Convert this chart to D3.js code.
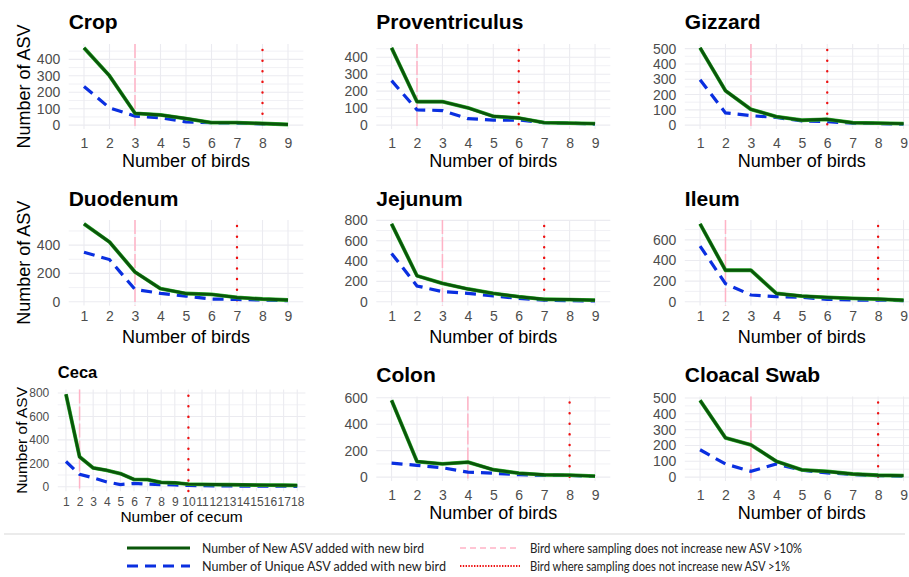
<!DOCTYPE html>
<html>
<head>
<meta charset="utf-8">
<script src="https://cdn.jsdelivr.net/npm/d3@7"></script>
<style>
  html, body { margin: 0; padding: 0; background: #ffffff; }
  svg { display: block; }
  text { font-family: "Liberation Sans", Arial, sans-serif; }
</style>
</head>
<body>
<svg id="chart" width="909" height="577"></svg>
<script>
// ---- data ---------------------------------------------------------------
const birds = [1, 2, 3, 4, 5, 6, 7, 8, 9];
const cecum = [1, 2, 3, 4, 5, 6, 7, 8, 9, 10, 11, 12, 13, 14, 15, 16, 17, 18];

const panelTitles = ["Crop", "Proventriculus", "Gizzard", "Duodenum", "Jejunum",
                     "Ileum", "Ceca", "Colon", "Cloacal Swab"];

// new ASVs added with each additional sample
const cropNew      = [470, 300, 72, 62, 40, 15, 15, 10, 4];
const provNew      = [455, 138, 138, 102, 52, 42, 15, 12, 9];
const gizzardNew   = [505, 225, 103, 56, 32, 38, 16, 13, 10];
const duodenumNew  = [550, 422, 210, 92, 58, 52, 30, 19, 12];
const jejunumNew   = [765, 255, 180, 125, 82, 49, 24, 21, 15];
const ileumNew     = [755, 305, 305, 80, 55, 42, 32, 26, 14];
const cecaNew      = [790, 255, 160, 140, 112, 62, 60, 36, 33, 22, 20, 18, 17, 16, 14, 13, 12, 11];
const colonNew     = [580, 118, 100, 113, 56, 30, 18, 15, 8];
const cloacalNew   = [485, 248, 204, 100, 46, 36, 20, 12, 10];

// ASVs unique to each additional sample
const cropUnique     = [235, 105, 55, 45, 20, 15, 12, 8, 3];
const provUnique     = [262, 90, 86, 38, 30, 30, 15, 12, 6];
const gizzardUnique  = [297, 80, 62, 50, 28, 22, 13, 11, 6];
const duodenumUnique = [350, 298, 87, 59, 40, 19, 16, 12, 7];
const jejunumUnique  = [475, 155, 99, 82, 56, 33, 16, 10, 7];
const ileumUnique    = [540, 175, 65, 49, 42, 23, 16, 16, 10];
const cecaUnique     = [215, 105, 76, 40, 18, 28, 22, 18, 15, 10, 8, 6, 6, 5, 5, 4, 4, 3];
const colonUnique    = [106, 89, 71, 38, 30, 18, 13, 13, 5];
const cloacalUnique  = [173, 83, 37, 83, 44, 27, 17, 10, 6];

// sample after which new ASVs stay below 10% / 1%
const cutoff10 = [3, 2, 3, 3, 3, 2, 2, 4, 3];
const cutoff1  = [8, 6, 6, 7, 7, 8, 10, 8, 8];

// y-axis tick labels per panel
const ticksCrop     = [0, 100, 200, 300, 400];
const ticksProv     = [0, 100, 200, 300, 400];
const ticksGizzard  = [0, 100, 200, 300, 400, 500];
const ticksDuodenum = [0, 200, 400];
const ticksJejunum  = [0, 200, 400, 600, 800];
const ticksIleum    = [0, 200, 400, 600];
const ticksCeca     = [0, 200, 400, 600, 800];
const ticksColon    = [0, 200, 400, 600];
const ticksCloacal  = [0, 100, 200, 300, 400, 500];

const legendLabels = [
  "Number of New ASV added with new bird",
  "Number of Unique ASV added with new bird",
  "Bird where sampling does not increase new ASV >10%",
  "Bird where sampling does not increase new ASV >1%"
];

// ---- layout -------------------------------------------------------------
const GREEN = "#0a560a", GREEN_EDGE = "#35b935", BLUE = "#0a2fe0",
      PINK = "#ffb3c6", RED = "#ee1111", GRID = "#ebebf0", TICK = "#4d4d4d";

const cols = [
  { left: 68.7, right: 303.3 },
  { left: 376.3, right: 610.3 },
  { left: 684.8, right: 918.8 }
];
const rows = [
  { top: 44, bottom: 129, title: 29, tick: 147.5, xtitle: 167 },
  { top: 220, bottom: 305.6, title: 206, tick: 320.5, xtitle: 342.7 },
  { top: 396.5, bottom: 481, title: 382.3, tick: 500, xtitle: 519.3 }
];

const panels = [
  { xs: birds, nv: cropNew,     uv: cropUnique,     ticks: ticksCrop,     col: 0, row: 0 },
  { xs: birds, nv: provNew,     uv: provUnique,     ticks: ticksProv,     col: 1, row: 0 },
  { xs: birds, nv: gizzardNew,  uv: gizzardUnique,  ticks: ticksGizzard,  col: 2, row: 0 },
  { xs: birds, nv: duodenumNew, uv: duodenumUnique, ticks: ticksDuodenum, col: 0, row: 1 },
  { xs: birds, nv: jejunumNew,  uv: jejunumUnique,  ticks: ticksJejunum,  col: 1, row: 1 },
  { xs: birds, nv: ileumNew,    uv: ileumUnique,    ticks: ticksIleum,    col: 2, row: 1 },
  { xs: cecum, nv: cecaNew,     uv: cecaUnique,     ticks: ticksCeca,     col: 0, row: 2,
    box: { left: 57.8, right: 305.4, top: 389.6, bottom: 491.3, title: 378.3, tick: 505.5, xtitle: 521.7 },
    small: true, xlabel: "Number of cecum" },
  { xs: birds, nv: colonNew,    uv: colonUnique,    ticks: ticksColon,    col: 1, row: 2 },
  { xs: birds, nv: cloacalNew,  uv: cloacalUnique,  ticks: ticksCloacal,  col: 2, row: 2 }
];

const svg = d3.select("#chart");
svg.append("rect").attr("width", 909).attr("height", 577).attr("fill", "#fff");

panels.forEach((p, i) => {
  const b = p.box || Object.assign({}, cols[p.col], rows[p.row]);
  const n = p.xs.length;
  const fsTitle = p.small ? 16.5 : 21;
  const fsTick = p.small ? 12 : 14;
  const fsAxis = p.small ? 15.5 : 18;

  const ymax = d3.max(p.nv.concat(p.uv));
  const x = d3.scaleLinear().domain([0.4, n + 0.6]).range([b.left, b.right]);
  const y = d3.scaleLinear().domain([-0.05 * ymax, 1.05 * ymax]).range([b.bottom, b.top]);

  const g = svg.append("g");
  const [y0, y1] = y.domain();

  // minor horizontal grid, midway between labelled ticks
  const step = p.ticks[1] - p.ticks[0];
  const minor = [];
  for (let v = p.ticks[0] - step / 2; v <= y1; v += step) if (v >= y0) minor.push(v);
  g.selectAll(".hmin").data(minor).join("line")
    .attr("x1", b.left).attr("x2", b.right)
    .attr("y1", d => y(d)).attr("y2", d => y(d))
    .attr("stroke", GRID).attr("stroke-width", 0.7);
  g.selectAll(".hmaj").data(p.ticks).join("line")
    .attr("x1", b.left).attr("x2", b.right)
    .attr("y1", d => y(d)).attr("y2", d => y(d))
    .attr("stroke", GRID).attr("stroke-width", 1.1);
  g.selectAll(".vmaj").data(p.xs).join("line")
    .attr("x1", d => x(d)).attr("x2", d => x(d))
    .attr("y1", b.top).attr("y2", b.bottom)
    .attr("stroke", GRID).attr("stroke-width", 1.1);

  // cut-off markers
  g.append("line")
    .attr("x1", x(cutoff10[i])).attr("x2", x(cutoff10[i]))
    .attr("y1", b.top).attr("y2", b.bottom)
    .attr("stroke", PINK).attr("stroke-width", 1.5)
    .attr("stroke-dasharray", "14,3");
  g.append("line")
    .attr("x1", x(cutoff1[i])).attr("x2", x(cutoff1[i]))
    .attr("y1", b.top + 6).attr("y2", b.bottom)
    .attr("stroke", RED).attr("stroke-width", 2.4)
    .attr("stroke-linecap", "round")
    .attr("stroke-dasharray", "0.1,10.5");

  const line = d3.line().x((d, k) => x(p.xs[k])).y(d => y(d));

  // unique ASVs (dashed blue)
  g.append("path").datum(p.uv).attr("d", line)
    .attr("fill", "none").attr("stroke", BLUE).attr("stroke-width", 3.2)
    .attr("stroke-dasharray", "11,7");
  // new ASVs (solid green)
  g.append("path").datum(p.nv).attr("d", line)
    .attr("fill", "none").attr("stroke", GREEN_EDGE).attr("stroke-width", 3.8)
    .attr("stroke-linejoin", "round");
  g.append("path").datum(p.nv).attr("d", line)
    .attr("fill", "none").attr("stroke", GREEN).attr("stroke-width", 2.9)
    .attr("stroke-linejoin", "round");

  // axes
  const ya = g.append("g").attr("transform", `translate(${b.left},0)`)
    .call(d3.axisLeft(y).tickValues(p.ticks).tickSize(0).tickPadding(8.5));
  ya.select(".domain").remove();
  ya.selectAll("text").attr("fill", TICK).style("font-size", fsTick + "px")
    .style("font-family", '"Liberation Sans", Arial, sans-serif');

  const xa = g.append("g").attr("transform", `translate(0,${b.tick - 0.71 * fsTick})`)
    .call(d3.axisBottom(x).tickValues(p.xs).tickSize(0).tickPadding(0).tickFormat(d3.format("d")));
  xa.select(".domain").remove();
  xa.selectAll("text").attr("fill", TICK).style("font-size", fsTick + "px")
    .style("font-family", '"Liberation Sans", Arial, sans-serif');

  // titles
  g.append("text").attr("x", b.left).attr("y", b.title)
    .attr("font-size", fsTitle).attr("font-weight", "bold").attr("fill", "#000")
    .text(panelTitles[i]);
  g.append("text").attr("x", (b.left + b.right) / 2).attr("y", b.xtitle)
    .attr("text-anchor", "middle").attr("font-size", fsAxis).attr("fill", "#000")
    .text(p.xlabel || "Number of birds");
  if (p.col === 0) {
    const cy = (b.top + b.bottom) / 2;
    const bx = p.small ? 27 : 29.5;
    g.append("text").attr("transform", `translate(${bx},${cy}) rotate(-90)`)
      .attr("text-anchor", "middle").attr("font-size", fsAxis).attr("fill", "#000")
      .text("Number of ASV");
  }
});

// ---- legend -------------------------------------------------------------
const lg = svg.append("g");
lg.append("line").attr("x1", 4).attr("x2", 905).attr("y1", 534).attr("y2", 534)
  .attr("stroke", "#e4e4e4").attr("stroke-width", 1.5);

const legendFont = '"Liberation Sans Narrow", "Lato", sans-serif';
const items = [
  { x1: 127, x2: 190, y: 548, stroke: GREEN, w: 3, dash: null, len: 222 },
  { x1: 127, x2: 190, y: 566, stroke: BLUE, w: 3, dash: "11,7", len: 244 },
  { x1: 460, x2: 520, y: 548, stroke: PINK, w: 1.5, dash: "6,4", len: 272 },
  { x1: 460, x2: 520, y: 566, stroke: RED, w: 2, dash: "1.4,1.4", len: 260 }
];
items.forEach((it, k) => {
  const l = lg.append("line").attr("x1", it.x1).attr("x2", it.x2)
    .attr("y1", it.y).attr("y2", it.y)
    .attr("stroke", it.stroke).attr("stroke-width", it.w);
  if (it.dash) l.attr("stroke-dasharray", it.dash);
  lg.append("text").attr("x", it.x2 + (k < 2 ? 12 : 10)).attr("y", it.y + 4.5)
    .attr("font-size", 13).attr("fill", "#222")
    .attr("textLength", it.len).attr("lengthAdjust", "spacingAndGlyphs")
    .style("font-family", legendFont)
    .text(legendLabels[k]);
});
</script>
</body>
</html>
